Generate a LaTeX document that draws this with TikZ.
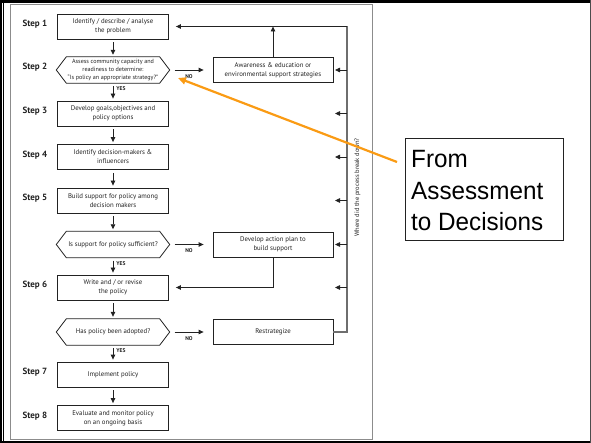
\documentclass[tikz,border=0pt]{standalone}
\usepackage{fontspec}
\setmainfont{PT Sans}
\newfontfamily\calloutfont[FakeStretch=0.97]{Liberation Sans}
\usetikzlibrary{arrows.meta}
\definecolor{ink}{HTML}{222222}
\definecolor{loopgray}{HTML}{6E6E6E}
\definecolor{framegray}{HTML}{8C8C8C}
\definecolor{pointer}{RGB}{250,155,20}
\begin{document}
\begin{tikzpicture}[x=1pt,y=-1pt,
  every node/.style={text=ink},
  stepbox/.style={draw=ink,line width=0.8pt,minimum width=111pt,minimum height=25pt,
    inner sep=1pt,align=center,font=\fontsize{6.8}{9}\selectfont},
  query/.style={minimum width=113pt,minimum height=26pt,inner sep=1pt,align=center,
    font=\fontsize{6.8}{8}\selectfont},
  smallquery/.style={query,font=\fontsize{6.1}{7.6}\selectfont},
  sidebox/.style={stepbox,minimum width=120pt},
  steplabel/.style={anchor=west,font=\fontsize{9}{9}\bfseries\selectfont},
  answer/.style={font=\fontsize{5.5}{6}\bfseries\selectfont,inner sep=1pt},
  flow/.style={draw=ink,line width=0.8pt,-{Triangle[length=5pt,width=4.5pt]}},
  loop/.style={draw=loopgray,line width=1.1pt},
]
\useasboundingbox (0,0) rectangle (591,443);

% slide border
\fill[black] (0,0) rectangle (591,3);
\fill[black] (0,0) rectangle (2,443);
\draw[black,line width=0.9pt] (3.8,3) -- (3.8,441);
\fill[black] (0,441) rectangle (591,443);
\fill[black!70] (589.6,0) rectangle (591,443);

% frame of the flow chart
\draw[framegray,line width=1pt] (10,4.5) rectangle (372,439.5);

% step labels
\node[steplabel] (l1) at (19,24)  {Step 1};
\node[steplabel] (l2) at (19,67)  {Step 2};
\node[steplabel] (l3) at (19,111) {Step 3};
\node[steplabel] (l4) at (19,155) {Step 4};
\node[steplabel] (l5) at (19,198) {Step 5};
\node[steplabel] (l6) at (19,285) {Step 6};
\node[steplabel] (l7) at (19,372) {Step 7};
\node[steplabel] (l8) at (19,416) {Step 8};

% main column
\node[stepbox] (s1) at (113,26.5)  {Identify / describe / analyse\\the problem};
\node[smallquery] (h2) at (113,70) {Assess community capacity and\\readiness to determine:\\“Is policy an appropriate strategy?”};
\node[stepbox] (s3) at (113,113.5) {Develop goals,objectives and\\policy options};
\node[stepbox] (s4) at (113,157)   {Identify decision-makers \&\\influencers};
\node[stepbox] (s5) at (113,200.5) {Build support for policy among\\decision makers};
\node[query]   (h5) at (113,244.5) {Is support for policy sufficient?};
\node[stepbox] (s6) at (113,287.5) {Write and / or revise\\the policy};
\node[query]   (h6) at (113,332)   {Has policy been adopted?};
\node[stepbox] (s7) at (113,374.5) {Implement policy};
\node[stepbox] (s8) at (113,418)   {Evaluate and monitor policy\\on an ongoing basis};

% hexagonal outlines of the decision nodes
\foreach \q in {h2,h5,h6}
  \draw[ink,line width=0.8pt] (\q.west) -- ([xshift=10pt]\q.north west)
    -- ([xshift=-10pt]\q.north east) -- (\q.east)
    -- ([xshift=-10pt]\q.south east) -- ([xshift=10pt]\q.south west) -- cycle;

% side column
\node[sidebox] (aw) at (273,70)    {Awareness \& education or\\environmental support strategies};
\node[sidebox] (ap) at (273,244.5) {Develop action plan to\\build support};
\node[sidebox] (rs) at (273,332)   {Restrategize};

% downward flow
\draw[flow,shorten <=3pt,shorten >=2pt] (s1) -- (h2);
\draw[flow,shorten <=3pt,shorten >=2pt] (h2) -- node[answer,pos=0.33,right=2pt]{YES} (s3);
\draw[flow,shorten <=3pt,shorten >=2pt] (s3) -- (s4);
\draw[flow,shorten <=3pt,shorten >=2pt] (s4) -- (s5);
\draw[flow,shorten <=3pt,shorten >=2pt] (s5) -- (h5);
\draw[flow,shorten <=3pt,shorten >=2pt] (h5) -- node[answer,pos=0.33,right=2pt]{YES} (s6);
\draw[flow,shorten <=3pt,shorten >=2pt] (s6) -- (h6);
\draw[flow,shorten <=3pt,shorten >=2pt] (h6) -- node[answer,pos=0.33,right=2pt]{YES} (s7);
\draw[flow,shorten <=3pt,shorten >=2pt] (s7) -- (s8);

% NO branches
\draw[flow,shorten <=5pt,shorten >=9pt] (h2) -- node[answer,pos=0.45,below=3pt]{NO} (aw);
\draw[flow,shorten <=5pt,shorten >=9pt] (h5) -- node[answer,pos=0.45,below=3pt]{NO} (ap);
\draw[flow,shorten <=5pt,shorten >=9pt] (h6) -- node[answer,pos=0.45,below=3pt]{NO} (rs);

% feedback loop
\coordinate (loopTop) at (347,26.5);
\coordinate (loopBottom) at (347,332);
\coordinate (reentry) at (335,0);
\draw[loop] (rs.east) -- (loopBottom) -- (loopTop);
\draw[flow,shorten >=7pt] (loopTop) -- (s1.east);
\draw[flow] (aw.north) -- (aw.north |- loopTop);
\foreach \t in {aw,s3,s4,s5,ap,s6}
  \draw[flow] (loopTop |- \t) -- (reentry |- \t);
\draw[flow,shorten >=7pt] (ap.south) |- (s6.east);

\node[rotate=90,font=\fontsize{6.5}{7}\selectfont] (why) at (357.5,187.5)
  {Where did the process break down?};

% callout
\node[draw=ink,line width=0.8pt,minimum width=158pt,minimum height=102pt] (callout) at (484,189) {};
\node[anchor=base west,align=left,inner sep=0pt,text=black,
  font=\calloutfont\fontsize{25}{31.5}\selectfont] (callouttext) at (411,231)
  {From\\Assessment\\to Decisions};
\coordinate (pointerTail) at (397,162);
\coordinate (pointerHead) at (178,78);
\draw[pointer,line width=2.2pt,-{Triangle[length=8pt,width=7pt]}] (pointerTail) -- (pointerHead);
\end{tikzpicture}
\end{document}
